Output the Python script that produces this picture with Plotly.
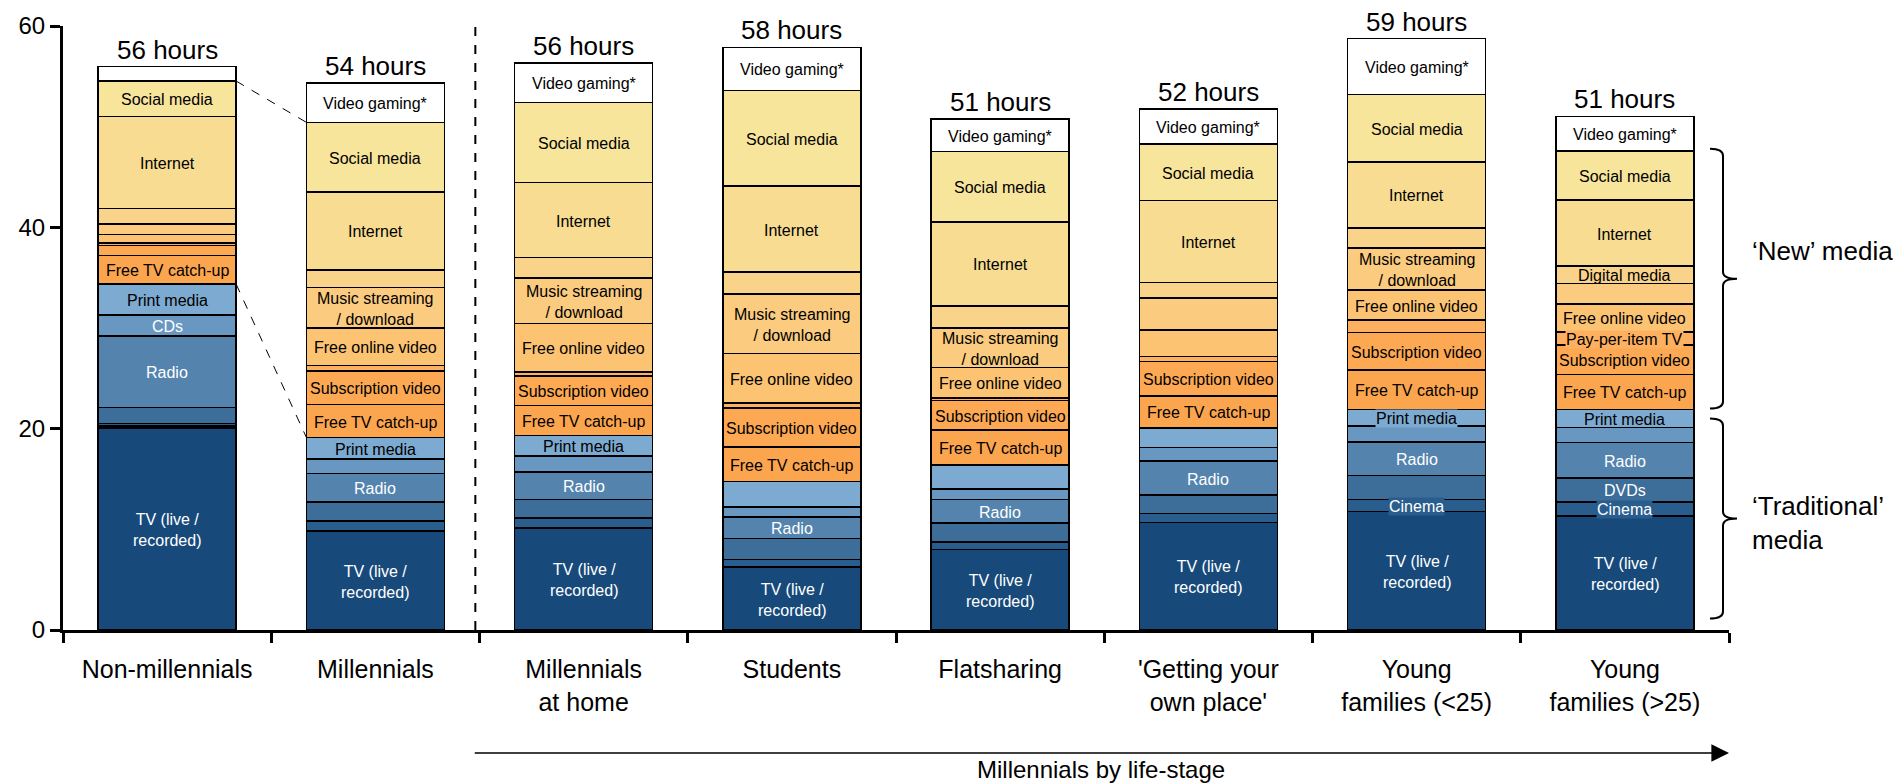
import plotly.graph_objects as go

# ---------------- data (hours per week) ----------------
categories = ["Non-millennials", "Millennials", "Millennials<br>at home", "Students",
              "Flatsharing", "'Getting your<br>own place'", "Young<br>families (&lt;25)",
              "Young<br>families (&gt;25)"]

tv = [20.09, 9.83, 10.16, 6.23, 8.01, 10.66, 11.76, 11.32]
other_trad = [0.20, 0, 0, 0, 0, 0, 0, 0]
cinema = [0.23, 0.99, 0.99, 0.79, 0.76, 0.93, 1.22, 1.42]
dvds = [1.59, 1.92, 1.83, 2.08, 1.83, 1.82, 2.35, 2.36]
radio = [7.12, 2.82, 2.74, 2.14, 2.38, 3.37, 3.37, 3.52]
cds = [2.05, 1.42, 1.59, 0.97, 1.00, 1.35, 1.57, 1.48]
print_media = [3.08, 2.15, 2.00, 2.54, 2.42, 1.95, 1.64, 1.80]
free_tv = [2.84, 3.26, 3.00, 3.41, 3.48, 3.17, 3.90, 3.50]
subscription = [1.00, 3.32, 2.94, 3.92, 2.92, 3.42, 3.76, 2.90]
pay_per_item = [0.26, 0.55, 0.39, 0.45, 0.24, 0.51, 1.20, 1.33]
free_online = [0.84, 3.76, 4.79, 4.92, 3.03, 2.63, 3.01, 2.77]
music = [1.04, 4.00, 4.51, 5.95, 3.95, 3.18, 4.17, 2.03]
digital = [1.54, 1.77, 2.05, 2.16, 2.19, 1.54, 1.98, 1.74]
internet = [9.12, 7.70, 7.45, 8.54, 8.30, 8.14, 6.57, 6.53]
social = [3.53, 6.94, 7.97, 9.50, 7.01, 5.60, 6.70, 4.90]
gaming = [1.44, 3.93, 3.93, 4.28, 3.25, 3.49, 5.54, 3.42]

# (name, values, colour, label text, bars labelled, text colour, bars with label box)
series = [
    ("TV (live / recorded)", tv, "#174A7B", "TV (live /<br>recorded)", [0, 1, 2, 3, 4, 5, 6, 7], "white", []),
    ("Other", other_trad, "#1F5385", None, [], "white", []),
    ("Cinema", cinema, "#295D8E", "Cinema", [6, 7], "white", [6, 7]),
    ("DVDs", dvds, "#3D6E9A", "DVDs", [7], "white", []),
    ("Radio", radio, "#5484AE", "Radio", [0, 1, 2, 3, 4, 5, 6, 7], "white", []),
    ("CDs", cds, "#6897C2", "CDs", [0], "white", []),
    ("Print media", print_media, "#7DAAD0", "Print media", [0, 1, 2, 6, 7], "black", [6]),
    ("Free TV catch-up", free_tv, "#FCA54F", "Free TV catch-up", [0, 1, 2, 3, 4, 5, 6, 7], "black", []),
    ("Subscription video", subscription, "#FDA954", "Subscription video", [1, 2, 3, 4, 5, 6, 7], "black", []),
    ("Pay-per-item TV", pay_per_item, "#FDB160", "Pay-per-item TV", [7], "black", [7]),
    ("Free online video", free_online, "#FCC373", "Free online video", [1, 2, 3, 4, 6, 7], "black", []),
    ("Music streaming / download", music, "#FBCB7F", "Music streaming<br>/ download", [1, 2, 3, 4, 6], "black", []),
    ("Digital media", digital, "#F9D38A", "Digital media", [7], "black", []),
    ("Internet", internet, "#F7DC92", "Internet", [0, 1, 2, 3, 4, 5, 6, 7], "black", []),
    ("Social media", social, "#F7E59C", "Social media", [0, 1, 2, 3, 4, 5, 6, 7], "black", []),
    ("Video gaming*", gaming, "#FFFFFF", "Video gaming*", [1, 2, 3, 4, 5, 6, 7], "black", []),
]

FONT = "Liberation Sans, Arial, sans-serif"
BAR_W = 0.6625
n = len(categories)

# page has an 8px body margin: plot area sits at page x 63..1729, y 26..630
PLOT_L, PLOT_W = 63, 1666
PLOT_B, PLOT_H = 630, 604


def px2paper(px):
    return (px - PLOT_L) / float(PLOT_W)


def py2paper(py):
    return (PLOT_B - py) / float(PLOT_H)


fig = go.Figure()
annotations = []
base = [0.0] * n
tops = {}
for name, vals, col, lab, lab_bars, tcol, box_bars in series:
    fig.add_trace(go.Bar(
        x=categories, y=vals, name=name, width=BAR_W,
        marker=dict(color=col, line=dict(color="black", width=1.6)),
        hoverinfo="name+y",
    ))
    for i in range(n):
        mid = base[i] + vals[i] / 2
        if lab and i in lab_bars:
            a = dict(x=i, y=mid, xref="x", yref="y", text=lab, showarrow=False,
                     font=dict(family=FONT, size=16, color=tcol), yshift=-1)
            if i in box_bars:
                a.update(bgcolor=col, borderpad=0)
            annotations.append(a)
        base[i] += vals[i]
    tops[name] = list(base)

totals = base
for i, t in enumerate(totals):
    annotations.append(dict(x=i, y=t, xref="x", yref="y", text=f"{round(t)} hours",
                            showarrow=False, yanchor="bottom", yshift=1, borderpad=0,
                            font=dict(family=FONT, size=26, color="black")))

# bottom arrow + caption
annotations.append(dict(x=7.5, y=py2paper(753), xref="x", yref="paper", ax=1.47, ay=0,
                        axref="x", ayref="pixel", showarrow=True, arrowhead=2,
                        arrowsize=2.2, arrowwidth=1.6, arrowcolor="black", text=""))
annotations.append(dict(x=4.485, y=py2paper(769), xref="x", yref="paper",
                        text="Millennials by life-stage", showarrow=False, yanchor="middle",
                        font=dict(family=FONT, size=24, color="black")))

# brace labels
annotations.append(dict(x=px2paper(1750), y=37.6, xref="paper", yref="y", xanchor="left",
                        text="\u2018New\u2019 media", showarrow=False,
                        font=dict(family=FONT, size=26, color="black")))
annotations.append(dict(x=px2paper(1750), y=10.6, xref="paper", yref="y", xanchor="left", align="left",
                        text="\u2018Traditional\u2019<br>media", showarrow=False,
                        font=dict(family=FONT, size=26, color="black")))

shapes = []
# vertical dashed separator between Millennials and life-stage groups
shapes.append(dict(type="line", xref="x", yref="y", x0=1.48, x1=1.48, y0=0, y1=60,
                   line=dict(color="black", width=2, dash="dash")))
# connector lines from Non-millennials to Millennials
xr = 0 + BAR_W / 2
xl = 1 - BAR_W / 2
shapes.append(dict(type="line", xref="x", yref="y", x0=xr, x1=xl,
                   y0=tops["Social media"][0], y1=tops["Social media"][1],
                   line=dict(color="black", width=1, dash="dash")))
shapes.append(dict(type="line", xref="x", yref="y", x0=xr, x1=xl,
                   y0=tops["Print media"][0], y1=tops["Print media"][1],
                   line=dict(color="black", width=1, dash="dash")))


# curly braces on the right
def brace(y_top, y_bot):
    xh, xv, xt = px2paper(1710), px2paper(1723), px2paper(1737)
    ym = (y_top + y_bot) / 2
    d = 0.7
    return (f"M {xh},{y_top} Q {xv},{y_top} {xv},{y_top - d} L {xv},{ym + d} "
            f"Q {xv},{ym} {xt},{ym} Q {xv},{ym} {xv},{ym - d} L {xv},{y_bot + d} "
            f"Q {xv},{y_bot} {xh},{y_bot}")


last = n - 1
shapes.append(dict(type="path", xref="paper", yref="y",
                   path=brace(tops["Social media"][last] + 0.2, tops["Print media"][last] + 0.1),
                   line=dict(color="black", width=2)))
shapes.append(dict(type="path", xref="paper", yref="y",
                   path=brace(tops["Print media"][last] - 0.9, 1.15),
                   line=dict(color="black", width=2)))

fig.update_layout(
    barmode="stack",
    width=1896, height=775,
    margin=dict(l=55, r=175, t=18, b=153, autoexpand=False),
    paper_bgcolor="white", plot_bgcolor="white",
    showlegend=False,
    font=dict(family=FONT, color="black"),
    annotations=annotations,
    shapes=shapes,
    xaxis=dict(type="category", range=[-0.5, 7.5], showline=True, linecolor="black", linewidth=3,
               ticks="outside", tickson="boundaries", ticklen=10, tickwidth=3, tickcolor="black",
               showgrid=False, automargin=False, tickfont=dict(family=FONT, size=25, color="black"),
               ticklabelstandoff=15),
    yaxis=dict(range=[0, 60], tickvals=[0, 20, 40, 60], showline=True, linecolor="black",
               linewidth=3, ticks="outside", ticklen=10, tickwidth=3, tickcolor="black",
               showgrid=False, zeroline=False, automargin=False,
               tickfont=dict(family=FONT, size=24, color="black")),
)

fig.write_html("out.html")
